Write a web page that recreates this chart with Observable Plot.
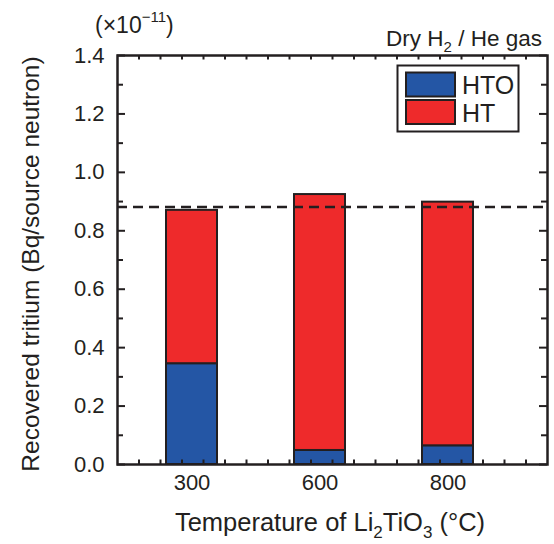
<!DOCTYPE html>
<html><head><meta charset="utf-8">
<script src="https://cdn.jsdelivr.net/npm/d3@7"></script>
<script src="https://cdn.jsdelivr.net/npm/@observablehq/plot@0.6"></script>
<style>
body{margin:0;background:#fff}
#chart{position:relative;width:554px;height:544px}
#chart svg{position:absolute;left:0;top:0}
</style></head><body><div id="chart"></div>
<script>
const temperatures = ["300", "600", "800"];
const species = ["HTO", "HT"];
const htoValues = [0.345, 0.048, 0.064];
const htValues = [0.525, 0.876, 0.834];
const referenceLevel = 0.881;
const yMajorTicks = [0, 0.2, 0.4, 0.6, 0.8, 1.0, 1.2, 1.4];
const yMinorTicks = [0.1, 0.3, 0.5, 0.7, 0.9, 1.1, 1.3];
const frameTicks = [1,2,3,4,5,6,7,8,9,10,11,12,13,14,15,16,17,18,19];
const colors = ["#2456a5", "#ee2a2b"];

const data = temperatures.flatMap((t, i) => [
  {temp: t, species: "HTO", value: htoValues[i]},
  {temp: t, species: "HT", value: htValues[i]}
]);

const ink = "#231f20";
const font = "'Liberation Sans', Arial, Helvetica, sans-serif";
const dims = {width: 554, height: 544, marginLeft: 117, marginRight: 7, marginTop: 55, marginBottom: 80};
const frameW = dims.width - dims.marginLeft - dims.marginRight;
const frameH = dims.height - dims.marginTop - dims.marginBottom;

const yTick = (ticks, side, len) => Plot.tickY(ticks, {
  y: d => d, stroke: ink, strokeWidth: 2,
  ...(side === "left" ? {insetRight: frameW - len} : {insetLeft: frameW - len})
});
const xTick = (ticks, side, len) => Plot.tickX(ticks, {
  x: d => d, stroke: ink, strokeWidth: 2,
  ...(side === "bottom" ? {insetTop: frameH - len} : {insetBottom: frameH - len})
});

const plot = Plot.plot({
  ...dims,
  style: {fontFamily: font, fontSize: "22px", color: ink, background: "transparent"},
  x: {type: "band", domain: temperatures, paddingInner: 0.6, paddingOuter: 0.4705, align: 0.398, label: null},
  y: {domain: [0, 1.4], label: null},
  color: {domain: species, range: colors},
  marks: [
    Plot.barY(data, {x: "temp", y: "value", fill: "species", stroke: ink, strokeWidth: 2, order: species}),
    Plot.ruleY([referenceLevel], {stroke: ink, strokeWidth: 2.5, strokeDasharray: "10,6"}),
    Plot.axisY({ticks: yMajorTicks, anchor: "left", tickSize: 0, tickPadding: 13, tickFormat: d3.format(".1f"), fontSize: 22, label: null}),
    Plot.axisX({anchor: "bottom", tickSize: 0, tickPadding: 10, fontSize: 22, label: null}),
    Plot.frame({stroke: ink, strokeWidth: 2.5})
  ]
});

// inward frame ticks on all four sides
const ticksLayer = Plot.plot({
  ...dims,
  style: {background: "transparent", color: ink},
  x: {domain: [0, 20], axis: null},
  y: {domain: [0, 1.4], axis: null},
  marks: [
    yTick(yMajorTicks, "left", 8),
    yTick(yMinorTicks, "left", 6),
    yTick(yMajorTicks, "right", 8),
    yTick(yMinorTicks, "right", 6),
    xTick(frameTicks, "bottom", 4.5),
    xTick(frameTicks, "top", 4.5)
  ]
});

// annotation layer: legend and titles
const color = plot.scale("color");
const ann = d3.create("svg").attr("width", 554).attr("height", 544)
  .attr("font-family", font).attr("fill", ink).style("background", "transparent");

const lg = ann.append("g");
lg.append("rect").attr("x", 397.5).attr("y", 65.5).attr("width", 121).attr("height", 66)
  .attr("fill", "white").attr("stroke", ink).attr("stroke-width", 2);
species.forEach((s, i) => {
  lg.append("rect").attr("x", 406).attr("y", 72.5 + i * 27.5).attr("width", 49).attr("height", 24)
    .attr("fill", color.apply(s)).attr("stroke", ink).attr("stroke-width", 2);
  lg.append("text").attr("x", 462).attr("y", 94 + i * 27.5).attr("font-size", 25).text(s);
});

const unit = ann.append("text").attr("x", 95).attr("y", 33).attr("font-size", 23);
unit.append("tspan").text("(×10");
unit.append("tspan").attr("font-size", 15).attr("dy", -11).text("−11");
unit.append("tspan").attr("dy", 11).text(")");

const cond = ann.append("text").attr("x", 542).attr("y", 46).attr("text-anchor", "end").attr("font-size", 22.5);
cond.append("tspan").text("Dry H");
cond.append("tspan").attr("font-size", 15).attr("dy", 6).text("2");
cond.append("tspan").attr("dy", -6).text(" / He gas");

const xt = ann.append("text").attr("x", 330).attr("y", 531).attr("text-anchor", "middle").attr("font-size", 25.5);
xt.append("tspan").text("Temperature of Li");
xt.append("tspan").attr("font-size", 17).attr("dy", 7).text("2");
xt.append("tspan").attr("dy", -7).text("TiO");
xt.append("tspan").attr("font-size", 17).attr("dy", 7).text("3");
xt.append("tspan").attr("dy", -7).text(" (°C)");

ann.append("text").attr("transform", "translate(39,264) rotate(-90)").attr("text-anchor", "middle")
  .attr("font-size", 24.5).text("Recovered tritium (Bq/source neutron)");

const root = document.getElementById("chart");
root.appendChild(plot);
root.appendChild(ann.node());
root.appendChild(ticksLayer);
</script></body></html>
